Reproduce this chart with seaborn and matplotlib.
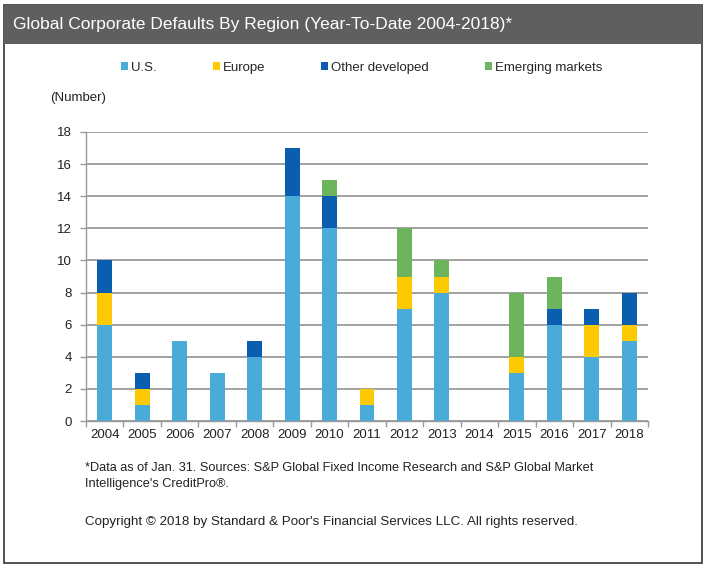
import numpy as np
import pandas as pd
import matplotlib
matplotlib.use("Agg")
import matplotlib.pyplot as plt
import seaborn as sns
from matplotlib.patches import Rectangle, Patch

years = ["2004", "2005", "2006", "2007", "2008", "2009", "2010", "2011",
         "2012", "2013", "2014", "2015", "2016", "2017", "2018"]
us = [6, 1, 5, 3, 4, 14, 12, 1, 7, 8, 0, 3, 6, 4, 5]
europe = [2, 1, 0, 0, 0, 0, 0, 1, 2, 1, 0, 1, 0, 2, 1]
other_dev = [2, 1, 0, 0, 1, 3, 2, 0, 0, 0, 0, 0, 1, 1, 2]
emerging = [0, 0, 0, 0, 0, 0, 1, 0, 3, 1, 0, 4, 2, 0, 0]
series_names = ["U.S.", "Europe", "Other developed", "Emerging markets"]
colors = ["#4aaad8", "#fdc900", "#0b5db0", "#6db45e"]
yticks = [0, 2, 4, 6, 8, 10, 12, 14, 16, 18]

sns.set_theme(style="white")
plt.rcParams['font.family'] = ['Liberation Sans', 'DejaVu Sans']

fig = plt.figure(figsize=(7.09, 5.70), dpi=100)

# outer border
fig.patches.append(Rectangle((4/709, 1-563/570), 698/709, 558/570, transform=fig.transFigure,
                             fill=False, edgecolor="#333333", linewidth=1.2))
# title bar
fig.patches.append(Rectangle((4/709, 1-44/570), 698/709, 39/570, transform=fig.transFigure,
                             facecolor="#5f5f5f", edgecolor="none"))
fig.text(13/709, 1-25/570, "Global Corporate Defaults By Region (Year-To-Date 2004-2018)*",
         color="white", fontsize=12.5, va="center", ha="left")

ax = fig.add_axes([86/709, 1-421/570, (648-86)/709, (421-132)/570])

df = pd.DataFrame({"year": years, "U.S.": us, "Europe": europe,
                   "Other developed": other_dev, "Emerging markets": emerging})
cum = df[series_names].cumsum(axis=1)

for name, col in zip(reversed(series_names), reversed(colors)):
    sns.barplot(x=df["year"], y=cum[name], color=col, width=0.4, ax=ax,
                saturation=1, linewidth=0, order=years)

ax.set_ylim(0, 18)
ax.set_xlim(-0.5, 14.5)
ax.set_yticks(yticks)
ax.yaxis.grid(True, color="#9a9a9a", linewidth=1.3)
ax.set_axisbelow(True)
ax.set_xlabel("")
ax.set_ylabel("")
for s in ["top", "right"]:
    ax.spines[s].set_visible(False)
ax.spines["left"].set_color("#9a9a9a")
ax.spines["bottom"].set_color("#9a9a9a")
ax.spines["left"].set_linewidth(1.0)
ax.spines["bottom"].set_linewidth(1.0)
ax.tick_params(axis="y", labelsize=9.5, colors="#222222", length=4, width=1, direction="out",
               left=True, color="#9a9a9a", pad=6)
ax.tick_params(axis="x", labelsize=9.5, colors="#222222", length=0, pad=6)
ax.set_xticks(np.arange(-0.5, 15, 1), minor=True)
ax.tick_params(axis="x", which="minor", length=4, width=1, color="#9a9a9a", bottom=True, direction="out")
ax.tick_params(axis="y", which="major", color="#9a9a9a")
for lab in ax.get_yticklabels() + ax.get_xticklabels():
    lab.set_color("#222222")

handles = [Patch(facecolor=c, edgecolor="none") for c in colors]
fig.legend(handles, series_names, loc="center left", bbox_to_anchor=(121/709, 1-68/570),
           ncol=4, frameon=False, fontsize=9.5, handlelength=0.55, handleheight=0.55,
           handletextpad=0.2, columnspacing=4.25, borderaxespad=0, borderpad=0)

fig.text(50/709, 1-98/570, "(Number)", fontsize=9.5, color="#222222", va="center", ha="left")
fig.text(85/709, 1-468/570, "*Data as of Jan. 31. Sources: S&P Global Fixed Income Research and S&P Global Market",
         fontsize=9.2, color="#222222", va="center", ha="left")
fig.text(85/709, 1-484/570, "Intelligence's CreditPro®.",
         fontsize=9.2, color="#222222", va="center", ha="left")
fig.text(85/709, 1-522/570, "Copyright © 2018 by Standard & Poor's Financial Services LLC. All rights reserved.",
         fontsize=9.6, color="#222222", va="center", ha="left")

fig.savefig("out.png", dpi=100)
